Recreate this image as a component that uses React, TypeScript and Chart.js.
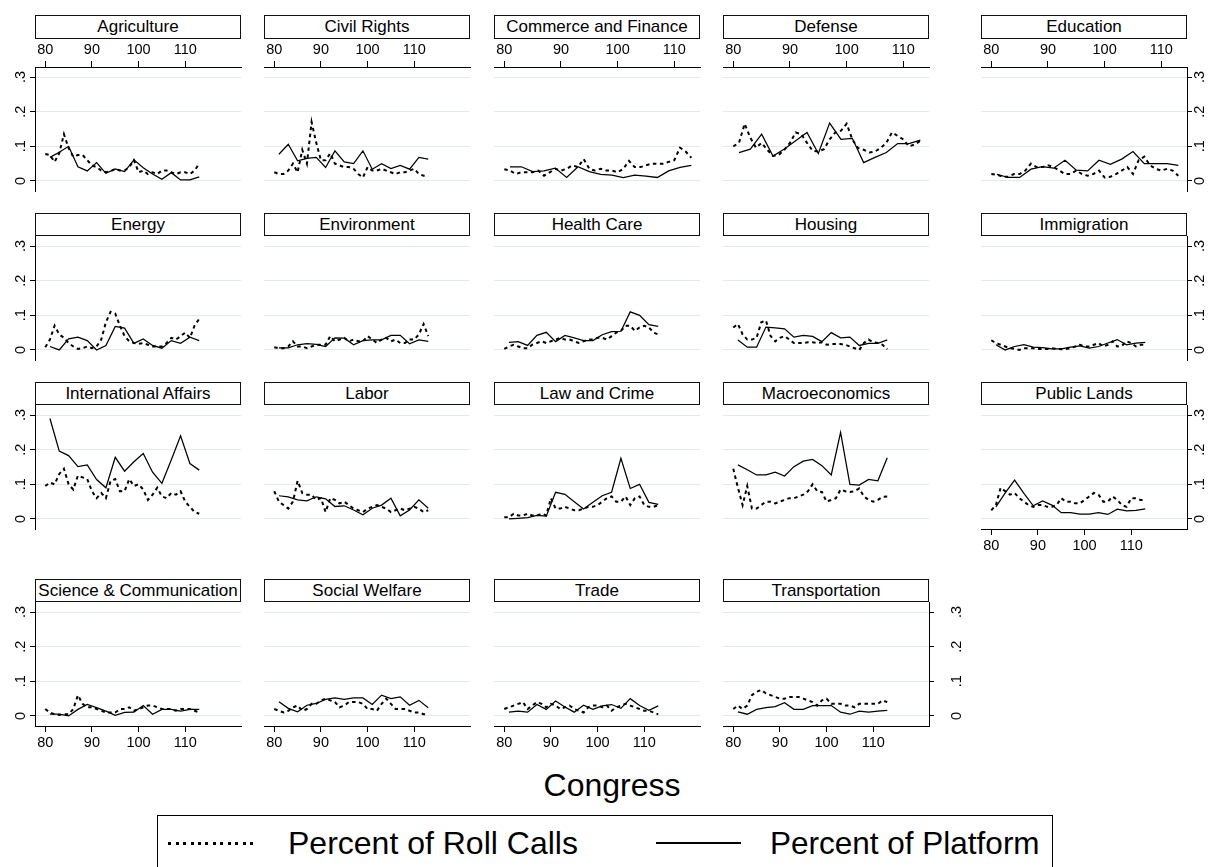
import React, { useEffect, useRef } from "react";
import { Chart, registerables } from "chart.js";

Chart.register(...registerables);

// ---------------- data ----------------
const ROLL_CONGRESS = [80, 81, 82, 83, 84, 85, 86, 87, 88, 89, 90, 91, 92, 93, 94, 95, 96, 97, 98, 99, 100, 101, 102, 103, 104, 105, 106, 107, 108, 109, 110, 111, 112, 113];
const PLATFORM_CONGRESS = [81, 83, 85, 87, 89, 91, 93, 95, 97, 99, 101, 103, 105, 107, 109, 111, 113];
const X_TICKS = [80, 90, 100, 110];
const Y_TICKS = [0, 0.1, 0.2, 0.3];
const Y_TICK_LABELS = ["0", ".1", ".2", ".3"];
const X_AXIS_TITLE = "Congress";
const LEGEND_LABELS = ["Percent of Roll Calls", "Percent of Platform"];

const agricultureRoll = [0.078, 0.075, 0.055, 0.08, 0.135, 0.095, 0.07, 0.075, 0.075, 0.06, 0.045, 0.04, 0.03, 0.025, 0.028, 0.035, 0.03, 0.03, 0.04, 0.06, 0.025, 0.03, 0.02, 0.025, 0.02, 0.03, 0.03, 0.025, 0.02, 0.025, 0.025, 0.02, 0.03, 0.05];
const agriculturePlatform = [0.068, 0.083, 0.1, 0.041, 0.029, 0.053, 0.022, 0.035, 0.027, 0.061, 0.038, 0.02, 0.005, 0.024, 0.003, 0.003, 0.012];

const civilRightsRoll = [0.025, 0.02, 0.02, 0.03, 0.05, 0.025, 0.09, 0.05, 0.17, 0.11, 0.06, 0.06, 0.08, 0.05, 0.045, 0.04, 0.04, 0.035, 0.02, 0.01, 0.04, 0.03, 0.03, 0.035, 0.03, 0.025, 0.02, 0.025, 0.025, 0.03, 0.035, 0.02, 0.015, 0.015];
const civilRightsPlatform = [0.077, 0.106, 0.058, 0.065, 0.068, 0.039, 0.087, 0.055, 0.05, 0.087, 0.034, 0.05, 0.036, 0.045, 0.034, 0.068, 0.063];

const commerceRoll = [0.034, 0.03, 0.02, 0.025, 0.025, 0.025, 0.03, 0.015, 0.025, 0.035, 0.03, 0.035, 0.045, 0.04, 0.063, 0.035, 0.03, 0.035, 0.03, 0.03, 0.025, 0.035, 0.058, 0.04, 0.04, 0.045, 0.05, 0.05, 0.05, 0.055, 0.06, 0.096, 0.085, 0.067];
const commercePlatform = [0.041, 0.041, 0.027, 0.029, 0.037, 0.01, 0.041, 0.027, 0.019, 0.017, 0.01, 0.017, 0.014, 0.01, 0.029, 0.039, 0.045];

const defenseRoll = [0.1, 0.11, 0.165, 0.125, 0.096, 0.11, 0.09, 0.072, 0.075, 0.09, 0.11, 0.14, 0.135, 0.11, 0.087, 0.085, 0.092, 0.12, 0.14, 0.145, 0.165, 0.12, 0.095, 0.09, 0.082, 0.085, 0.095, 0.11, 0.14, 0.13, 0.12, 0.1, 0.105, 0.116];
const defensePlatform = [0.082, 0.092, 0.135, 0.072, 0.092, 0.116, 0.14, 0.079, 0.167, 0.12, 0.123, 0.053, 0.068, 0.082, 0.108, 0.108, 0.118];

const educationRoll = [0.02, 0.018, 0.012, 0.012, 0.02, 0.02, 0.03, 0.05, 0.04, 0.04, 0.045, 0.04, 0.03, 0.02, 0.02, 0.03, 0.02, 0.015, 0.02, 0.03, 0.01, 0.012, 0.02, 0.03, 0.04, 0.02, 0.06, 0.07, 0.045, 0.035, 0.03, 0.035, 0.03, 0.015];
const educationPlatform = [0.019, 0.01, 0.01, 0.034, 0.041, 0.037, 0.06, 0.031, 0.029, 0.06, 0.048, 0.063, 0.085, 0.05, 0.05, 0.05, 0.045];

const energyRoll = [0.008, 0.03, 0.07, 0.045, 0.035, 0.02, 0.01, 0.003, 0.005, 0.01, 0.005, 0.01, 0.03, 0.08, 0.11, 0.105, 0.07, 0.04, 0.025, 0.02, 0.018, 0.02, 0.015, 0.01, 0.01, 0.01, 0.02, 0.035, 0.03, 0.04, 0.05, 0.035, 0.07, 0.09];
const energyPlatform = [0.01, 0.0, 0.032, 0.037, 0.027, 0.0, 0.013, 0.068, 0.063, 0.019, 0.032, 0.013, 0.005, 0.027, 0.019, 0.037, 0.027];

const environmentRoll = [0.008, 0.005, 0.005, 0.01, 0.025, 0.01, 0.01, 0.005, 0.01, 0.015, 0.015, 0.015, 0.04, 0.025, 0.03, 0.035, 0.025, 0.03, 0.025, 0.025, 0.04, 0.03, 0.02, 0.03, 0.035, 0.025, 0.03, 0.02, 0.02, 0.03, 0.03, 0.045, 0.075, 0.04];
const environmentPlatform = [0.006, 0.006, 0.015, 0.018, 0.016, 0.01, 0.035, 0.034, 0.015, 0.027, 0.029, 0.029, 0.042, 0.042, 0.018, 0.029, 0.025];

const healthRoll = [0.003, 0.01, 0.015, 0.01, 0.005, 0.005, 0.015, 0.02, 0.025, 0.02, 0.025, 0.03, 0.035, 0.03, 0.03, 0.025, 0.02, 0.025, 0.03, 0.03, 0.035, 0.035, 0.03, 0.04, 0.05, 0.055, 0.07, 0.07, 0.055, 0.065, 0.07, 0.065, 0.05, 0.045];
const healthPlatform = [0.022, 0.024, 0.013, 0.042, 0.051, 0.024, 0.042, 0.035, 0.027, 0.027, 0.044, 0.053, 0.054, 0.11, 0.1, 0.073, 0.068];

const housingRoll = [0.065, 0.075, 0.045, 0.03, 0.03, 0.035, 0.08, 0.085, 0.04, 0.025, 0.035, 0.04, 0.03, 0.02, 0.02, 0.02, 0.022, 0.022, 0.02, 0.022, 0.015, 0.017, 0.017, 0.017, 0.015, 0.01, 0.005, 0.0, 0.02, 0.03, 0.022, 0.02, 0.015, 0.002];
const housingPlatform = [0.029, 0.008, 0.008, 0.066, 0.064, 0.061, 0.037, 0.042, 0.039, 0.024, 0.05, 0.035, 0.037, 0.013, 0.019, 0.019, 0.029];

const immigrationRoll = [0.028, 0.02, 0.015, 0.01, 0.005, 0.003, 0.0, 0.005, 0.005, 0.005, 0.003, 0.003, 0.003, 0.005, 0.003, 0.002, 0.003, 0.005, 0.01, 0.015, 0.01, 0.01, 0.015, 0.02, 0.01, 0.015, 0.025, 0.01, 0.012, 0.025, 0.02, 0.01, 0.015, 0.015];
const immigrationPlatform = [0.015, 0.0, 0.01, 0.015, 0.008, 0.007, 0.003, 0.003, 0.008, 0.012, 0.005, 0.01, 0.02, 0.03, 0.015, 0.02, 0.022];

const intlRoll = [0.095, 0.105, 0.1, 0.13, 0.145, 0.1, 0.085, 0.125, 0.12, 0.115, 0.08, 0.06, 0.075, 0.06, 0.11, 0.115, 0.08, 0.08, 0.115, 0.095, 0.1, 0.085, 0.055, 0.07, 0.09, 0.065, 0.06, 0.075, 0.07, 0.08, 0.05, 0.035, 0.02, 0.015];
const intlPlatform = [0.29, 0.196, 0.183, 0.151, 0.156, 0.114, 0.09, 0.178, 0.138, 0.165, 0.189, 0.135, 0.103, 0.17, 0.24, 0.16, 0.141];

const laborRoll = [0.08, 0.05, 0.04, 0.03, 0.05, 0.11, 0.075, 0.07, 0.07, 0.055, 0.06, 0.02, 0.06, 0.055, 0.045, 0.05, 0.04, 0.03, 0.025, 0.02, 0.03, 0.035, 0.04, 0.035, 0.03, 0.02, 0.025, 0.03, 0.025, 0.03, 0.035, 0.03, 0.02, 0.025];
const laborPlatform = [0.067, 0.064, 0.055, 0.052, 0.064, 0.058, 0.036, 0.038, 0.026, 0.012, 0.031, 0.04, 0.06, 0.009, 0.026, 0.055, 0.031];

const lawRoll = [0.005, 0.005, 0.015, 0.01, 0.01, 0.015, 0.01, 0.01, 0.015, 0.01, 0.06, 0.03, 0.03, 0.035, 0.03, 0.025, 0.025, 0.03, 0.035, 0.035, 0.04, 0.05, 0.06, 0.065, 0.05, 0.05, 0.065, 0.04, 0.06, 0.065, 0.04, 0.035, 0.035, 0.04];
const lawPlatform = [0.0, 0.002, 0.004, 0.01, 0.008, 0.077, 0.071, 0.05, 0.029, 0.048, 0.067, 0.077, 0.175, 0.088, 0.1, 0.048, 0.042];

const macroRoll = [0.145, 0.09, 0.04, 0.095, 0.03, 0.03, 0.04, 0.05, 0.05, 0.045, 0.05, 0.055, 0.06, 0.06, 0.065, 0.07, 0.08, 0.1, 0.08, 0.078, 0.05, 0.055, 0.06, 0.085, 0.08, 0.078, 0.08, 0.088, 0.065, 0.055, 0.05, 0.055, 0.064, 0.065];
const macroPlatform = [0.156, 0.142, 0.127, 0.127, 0.135, 0.124, 0.151, 0.167, 0.172, 0.154, 0.127, 0.25, 0.1, 0.098, 0.114, 0.11, 0.177];

const publicLandsRoll = [0.025, 0.04, 0.09, 0.08, 0.07, 0.075, 0.06, 0.05, 0.04, 0.035, 0.04, 0.04, 0.035, 0.035, 0.04, 0.06, 0.05, 0.05, 0.045, 0.045, 0.055, 0.065, 0.075, 0.07, 0.05, 0.05, 0.065, 0.055, 0.04, 0.035, 0.06, 0.06, 0.055, 0.055];
const publicLandsPlatform = [0.035, 0.075, 0.112, 0.074, 0.038, 0.052, 0.04, 0.018, 0.018, 0.014, 0.014, 0.018, 0.013, 0.028, 0.023, 0.025, 0.029];

const scienceRoll = [0.02, 0.01, 0.005, 0.003, 0.005, 0.005, 0.02, 0.06, 0.035, 0.025, 0.025, 0.02, 0.015, 0.01, 0.01, 0.01, 0.02, 0.02, 0.025, 0.015, 0.02, 0.025, 0.03, 0.03, 0.025, 0.02, 0.02, 0.02, 0.015, 0.02, 0.02, 0.02, 0.015, 0.01];
const sciencePlatform = [0.005, 0.005, 0.0, 0.019, 0.033, 0.024, 0.014, 0.002, 0.01, 0.011, 0.03, 0.005, 0.019, 0.019, 0.014, 0.019, 0.019];

const socialRoll = [0.02, 0.015, 0.01, 0.015, 0.025, 0.03, 0.015, 0.02, 0.035, 0.035, 0.045, 0.05, 0.045, 0.04, 0.025, 0.03, 0.04, 0.04, 0.04, 0.035, 0.02, 0.02, 0.015, 0.035, 0.05, 0.035, 0.02, 0.02, 0.02, 0.015, 0.01, 0.01, 0.005, 0.005];
const socialPlatform = [0.041, 0.022, 0.012, 0.031, 0.036, 0.048, 0.052, 0.048, 0.052, 0.052, 0.033, 0.06, 0.05, 0.055, 0.031, 0.045, 0.024];

const tradeRoll = [0.02, 0.025, 0.03, 0.035, 0.04, 0.02, 0.03, 0.04, 0.035, 0.025, 0.035, 0.03, 0.02, 0.025, 0.03, 0.02, 0.015, 0.01, 0.025, 0.03, 0.03, 0.025, 0.03, 0.015, 0.025, 0.03, 0.035, 0.03, 0.025, 0.02, 0.015, 0.015, 0.01, 0.005];
const tradePlatform = [0.011, 0.014, 0.011, 0.033, 0.019, 0.043, 0.026, 0.011, 0.031, 0.019, 0.029, 0.033, 0.022, 0.05, 0.03, 0.016, 0.029];

const transportRoll = [0.02, 0.03, 0.02, 0.03, 0.06, 0.07, 0.075, 0.065, 0.06, 0.055, 0.05, 0.05, 0.055, 0.055, 0.055, 0.05, 0.045, 0.04, 0.03, 0.045, 0.05, 0.035, 0.035, 0.035, 0.03, 0.03, 0.025, 0.035, 0.035, 0.035, 0.035, 0.035, 0.045, 0.04];
const transportPlatform = [0.012, 0.005, 0.019, 0.024, 0.027, 0.038, 0.019, 0.019, 0.03, 0.03, 0.03, 0.011, 0.005, 0.014, 0.011, 0.014, 0.016];

// ---------------- layout ----------------
const FONT = "'Liberation Sans', Arial, Helvetica, sans-serif";
const GRID_COLOR = "#e2eaee";
const COL_LEFT = [35, 264, 494, 723, 981];
const ROW_TOP = [67, 236, 405, 602];
const PLOT_W = 206;
const PLOT_H = 124;
const M = 40;
const Y_MIN = -0.029;
const Y_MAX = 0.329;
const X_RANGE_NARROW = [77.8, 121.95];
const X_RANGE_WIDE = [78.18, 114.53];
const TITLE_H = 23.5;

type Spec = {
  title: string;
  roll: number[];
  platform: number[];
  row: number;
  col: number;
  xAxis: "top" | "bottom" | null;
  yAxis: "left" | "right" | null;
  wide: boolean;
  yPad: number;
};

function mk(title: string, roll: number[], platform: number[], row: number, col: number, extra: Partial<Spec> = {}): Spec {
  const xAxis = row === 0 ? "top" : row === 3 ? "bottom" : null;
  const yAxis = col === 0 ? "left" : col === 4 ? "right" : null;
  return {
    title, roll, platform, row, col,
    xAxis, yAxis,
    wide: row === 0 && col >= 2,
    yPad: col === 0 ? 3 : 1.6,
    ...extra,
  } as Spec;
}

const PANELS: Spec[] = [
  mk("Agriculture", agricultureRoll, agriculturePlatform, 0, 0),
  mk("Civil Rights", civilRightsRoll, civilRightsPlatform, 0, 1),
  mk("Commerce and Finance", commerceRoll, commercePlatform, 0, 2),
  mk("Defense", defenseRoll, defensePlatform, 0, 3),
  mk("Education", educationRoll, educationPlatform, 0, 4),
  mk("Energy", energyRoll, energyPlatform, 1, 0),
  mk("Environment", environmentRoll, environmentPlatform, 1, 1),
  mk("Health Care", healthRoll, healthPlatform, 1, 2),
  mk("Housing", housingRoll, housingPlatform, 1, 3),
  mk("Immigration", immigrationRoll, immigrationPlatform, 1, 4),
  mk("International Affairs", intlRoll, intlPlatform, 2, 0),
  mk("Labor", laborRoll, laborPlatform, 2, 1),
  mk("Law and Crime", lawRoll, lawPlatform, 2, 2),
  mk("Macroeconomics", macroRoll, macroPlatform, 2, 3),
  mk("Public Lands", publicLandsRoll, publicLandsPlatform, 2, 4, { xAxis: "bottom" }),
  mk("Science & Communication", scienceRoll, sciencePlatform, 3, 0),
  mk("Social Welfare", socialRoll, socialPlatform, 3, 1),
  mk("Trade", tradeRoll, tradePlatform, 3, 2),
  mk("Transportation", transportRoll, transportPlatform, 3, 3, { yAxis: "right", yPad: 16.6 }),
];

function Panel({ spec }: { spec: Spec }) {
  const ref = useRef<HTMLCanvasElement>(null);
  useEffect(() => {
    const canvas = ref.current;
    if (!canvas) return;
    const xr = spec.wide ? X_RANGE_WIDE : X_RANGE_NARROW;
    const chart = new Chart(canvas, {
      type: "line",
      data: {
        datasets: [
          {
            label: LEGEND_LABELS[0],
            data: ROLL_CONGRESS.map((x, i) => ({ x, y: spec.roll[i] })),
            borderColor: "#000",
            borderWidth: 2,
            borderDash: [3.5, 3.5],
            pointRadius: 0,
            tension: 0,
            fill: false,
          },
          {
            label: LEGEND_LABELS[1],
            data: PLATFORM_CONGRESS.map((x, i) => ({ x, y: spec.platform[i] })),
            borderColor: "#000",
            borderWidth: 1.25,
            pointRadius: 0,
            tension: 0,
            fill: false,
          },
        ],
      },
      options: {
        animation: false,
        responsive: false,
        events: [],
        layout: {
          padding: {
            left: spec.yAxis === "left" ? 0 : M,
            right: spec.yAxis === "right" ? 0 : M,
            top: spec.xAxis === "top" ? 0 : M,
            bottom: spec.xAxis === "bottom" ? 0 : M,
          },
        },
        plugins: { legend: { display: false }, tooltip: { enabled: false } },
        scales: {
          x: {
            type: "linear",
            position: spec.xAxis || "bottom",
            display: !!spec.xAxis,
            min: xr[0],
            max: xr[1],
            afterBuildTicks: (s: any) => {
              s.ticks = X_TICKS.map((v) => ({ value: v }));
            },
            afterFit: (s: any) => {
              s.height = spec.xAxis ? M : 0;
            },
            grid: { drawOnChartArea: false, drawTicks: true, tickLength: 6, tickColor: "#000", tickWidth: 1 },
            border: { display: true, color: "#000", width: 1 },
            ticks: {
              color: "#000",
              font: { family: FONT, size: 14.5 },
              padding: 2,
              minRotation: 0,
              maxRotation: 0,
              autoSkip: false,
              callback: (v: any) => String(v),
            },
          },
          y: {
            type: "linear",
            position: spec.yAxis || "left",
            min: Y_MIN,
            max: Y_MAX,
            afterBuildTicks: (s: any) => {
              s.ticks = Y_TICKS.map((v) => ({ value: v }));
            },
            afterFit: (s: any) => {
              s.width = spec.yAxis ? M : 0;
            },
            grid: {
              color: GRID_COLOR,
              lineWidth: 1,
              drawOnChartArea: true,
              drawTicks: !!spec.yAxis,
              tickLength: 5,
              tickColor: "#000",
              tickWidth: 1,
            },
            border: { display: !!spec.yAxis, color: "#000", width: 1 },
            ticks: {
              display: !!spec.yAxis,
              color: "#000",
              font: { family: FONT, size: 14.5 },
              padding: spec.yPad,
              minRotation: 90,
              maxRotation: 90,
              crossAlign: "center",
              autoSkip: false,
              callback: (_v: any, i: number) => Y_TICK_LABELS[i],
            },
          },
        },
      } as any,
    });
    return () => chart.destroy();
  }, [spec]);

  const left = COL_LEFT[spec.col];
  const top = ROW_TOP[spec.row];
  const titleTop = spec.row === 0 ? 15 : top - TITLE_H;
  return (
    <>
      <canvas
        ref={ref}
        width={PLOT_W + 2 * M}
        height={PLOT_H + 2 * M}
        style={{ position: "absolute", left: left - M, top: top - M, width: PLOT_W + 2 * M, height: PLOT_H + 2 * M }}
      />
      <div
        style={{
          position: "absolute",
          left,
          top: titleTop,
          width: PLOT_W,
          height: TITLE_H,
          boxSizing: "border-box",
          border: "1px solid #111",
          background: "#fff",
          fontFamily: FONT,
          fontSize: 17,
          lineHeight: `${TITLE_H - 2}px`,
          textAlign: "center",
          whiteSpace: "nowrap",
          overflow: "hidden",
          color: "#000",
        }}
      >
        {spec.title}
      </div>
    </>
  );
}

export default function App() {
  return (
    <div
      style={{
        position: "absolute",
        left: 0,
        top: 0,
        width: 1212,
        height: 867,
        overflow: "hidden",
        background: "#fff",
        fontFamily: FONT,
      }}
    >
      {PANELS.map((p) => (
        <Panel key={p.title} spec={p} />
      ))}
      <div
        style={{
          position: "absolute",
          left: 412,
          top: 767,
          width: 400,
          height: 36,
          lineHeight: "36px",
          fontSize: 32,
          textAlign: "center",
          color: "#000",
        }}
      >
        {X_AXIS_TITLE}
      </div>
      <div
        style={{
          position: "absolute",
          left: 157,
          top: 815,
          width: 896,
          height: 90,
          boxSizing: "border-box",
          border: "1.5px solid #000",
        }}
      />
      <div
        style={{
          position: "absolute",
          left: 168,
          top: 841.5,
          width: 87,
          height: 3,
          background: "repeating-linear-gradient(to right, #000 0px, #000 3px, transparent 3px, transparent 7.5px)",
        }}
      />
      <div style={{ position: "absolute", left: 288, top: 825, height: 36, lineHeight: "36px", fontSize: 32, whiteSpace: "nowrap", color: "#000" }}>
        {LEGEND_LABELS[0]}
      </div>
      <div style={{ position: "absolute", left: 656, top: 842, width: 85, height: 2, background: "#000" }} />
      <div style={{ position: "absolute", left: 770, top: 825, height: 36, lineHeight: "36px", fontSize: 31.5, whiteSpace: "nowrap", color: "#000" }}>
        {LEGEND_LABELS[1]}
      </div>
    </div>
  );
}
